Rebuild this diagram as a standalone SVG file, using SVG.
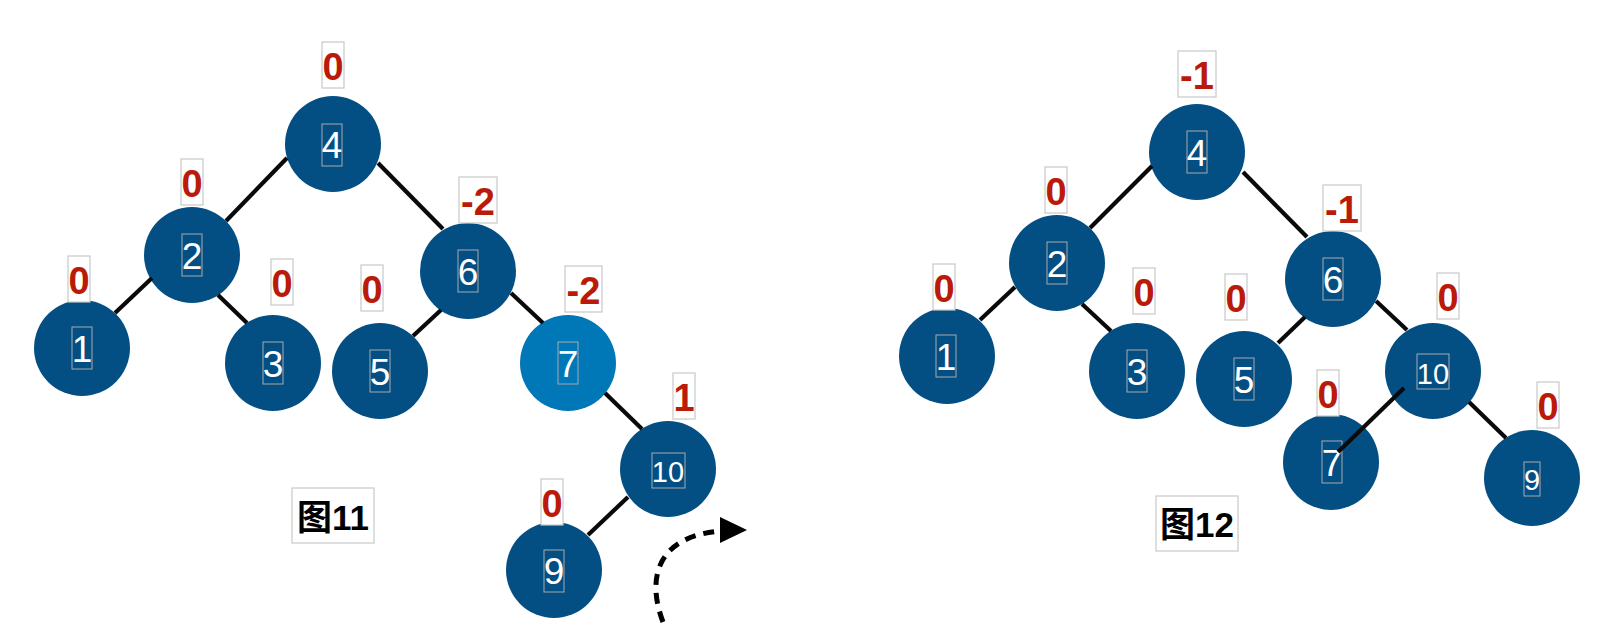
<svg xmlns="http://www.w3.org/2000/svg" width="1608" height="642" viewBox="0 0 1608 642">
<defs>
<style>
.n{fill:#034F84}
.hl{fill:#0077B6}
.tb{fill:none;stroke:#A9A9A9;stroke-width:1}
.nt{font-family:"Liberation Sans",Arial,sans-serif;font-size:37px;fill:#fff;text-anchor:middle}
.nts{font-family:"Liberation Sans",Arial,sans-serif;font-size:29px;fill:#fff;text-anchor:middle}
.lb{fill:#fff;stroke:#C8C8C8;stroke-width:1.2}
.lt{font-family:"Liberation Sans",Arial,sans-serif;font-size:38px;font-weight:bold;fill:#BA1A0A;text-anchor:middle}
.cap{font-family:"Liberation Sans","Noto Sans CJK SC",sans-serif;font-size:35px;font-weight:bold;fill:#000;text-anchor:middle}
.e{stroke:#0A0A0A;stroke-width:4.2;stroke-linecap:butt}
</style>
</defs>
<rect width="1608" height="642" fill="#fff"/>

<!-- Figure 11 -->
<g id="l-n4"><circle class="n" cx="333" cy="144" r="48"/><rect class="tb" x="322" y="124" width="20" height="42"/><text class="nt" x="332" y="158">4</text>
<rect class="lb" x="322" y="42" width="22" height="46"/><text class="lt" x="333" y="80">0</text></g>
<g id="l-n2"><circle class="n" cx="192" cy="255" r="48"/><rect class="tb" x="182" y="234" width="20" height="42"/><text class="nt" x="192" y="269">2</text>
<rect class="lb" x="181" y="159" width="22" height="46"/><text class="lt" x="192" y="197">0</text></g>
<g id="l-n1"><circle class="n" cx="82" cy="348" r="48"/><rect class="tb" x="72" y="327" width="20" height="42"/><text class="nt" x="82" y="362">1</text>
<rect class="lb" x="68" y="256" width="22" height="46"/><text class="lt" x="79" y="294">0</text></g>
<g id="l-n3"><circle class="n" cx="273" cy="363" r="48"/><rect class="tb" x="263" y="342" width="20" height="42"/><text class="nt" x="273" y="377">3</text>
<rect class="lb" x="271" y="259" width="22" height="46"/><text class="lt" x="282" y="297">0</text></g>
<g id="l-n5"><circle class="n" cx="380" cy="371" r="48"/><rect class="tb" x="370" y="350" width="20" height="42"/><text class="nt" x="380" y="385">5</text>
<rect class="lb" x="361" y="265" width="22" height="46"/><text class="lt" x="372" y="303">0</text></g>
<g id="l-n6"><circle class="n" cx="468" cy="271" r="48"/><rect class="tb" x="458" y="250" width="20" height="42"/><text class="nt" x="468" y="285">6</text>
<rect class="lb" x="459" y="177" width="38" height="46"/><text class="lt" x="478" y="215">-2</text></g>
<g id="l-n7"><circle class="hl" cx="568" cy="363" r="48"/><rect class="tb" x="558" y="342" width="20" height="42"/><text class="nt" x="568" y="377">7</text>
<rect class="lb" x="565" y="266" width="37" height="46"/><text class="lt" x="583.5" y="304">-2</text></g>
<g id="l-n10"><circle class="n" cx="668" cy="469" r="48"/><rect class="tb" x="652" y="453" width="33" height="35"/><text class="nts" x="668" y="482">10</text>
<rect class="lb" x="673" y="373" width="22" height="46"/><text class="lt" x="684" y="411">1</text></g>
<g id="l-n9"><circle class="n" cx="554" cy="570" r="48"/><rect class="tb" x="544" y="550" width="20" height="42"/><text class="nt" x="554" y="584">9</text>
<rect class="lb" x="541" y="479" width="22" height="46"/><text class="lt" x="552" y="517">0</text></g>
<g id="cap11"><rect class="lb" x="292" y="488" width="82" height="55"/><text class="cap" x="333" y="530">图11</text></g>

<!-- Figure 12 -->
<g id="r-n4"><circle class="n" cx="1197" cy="152" r="48"/><rect class="tb" x="1187" y="131" width="20" height="42"/><text class="nt" x="1197" y="166">4</text>
<rect class="lb" x="1178" y="51" width="38" height="46"/><text class="lt" x="1197" y="89">-1</text></g>
<g id="r-n2"><circle class="n" cx="1057" cy="263" r="48"/><rect class="tb" x="1047" y="242" width="20" height="42"/><text class="nt" x="1057" y="277">2</text>
<rect class="lb" x="1045" y="167" width="22" height="46"/><text class="lt" x="1056" y="205">0</text></g>
<g id="r-n1"><circle class="n" cx="947" cy="356" r="48"/><rect class="tb" x="936" y="335" width="20" height="42"/><text class="nt" x="946" y="370">1</text>
<rect class="lb" x="933" y="264" width="22" height="46"/><text class="lt" x="944" y="302">0</text></g>
<g id="r-n3"><circle class="n" cx="1137" cy="371" r="48"/><rect class="tb" x="1127" y="350" width="20" height="42"/><text class="nt" x="1137" y="385">3</text>
<rect class="lb" x="1133" y="268" width="22" height="46"/><text class="lt" x="1144" y="306">0</text></g>
<g id="r-n5"><circle class="n" cx="1244" cy="379" r="48"/><rect class="tb" x="1234" y="358" width="20" height="42"/><text class="nt" x="1244" y="393">5</text>
<rect class="lb" x="1225" y="274" width="22" height="46"/><text class="lt" x="1236" y="312">0</text></g>
<g id="r-n6"><circle class="n" cx="1333" cy="279" r="48"/><rect class="tb" x="1323" y="258" width="20" height="42"/><text class="nt" x="1333" y="293">6</text>
<rect class="lb" x="1323" y="185" width="38" height="46"/><text class="lt" x="1342" y="223">-1</text></g>
<g id="r-n10"><circle class="n" cx="1433" cy="371" r="48"/><rect class="tb" x="1417" y="354" width="32" height="35"/><text class="nts" x="1433" y="384">10</text>
<rect class="lb" x="1437" y="273" width="22" height="46"/><text class="lt" x="1448" y="311">0</text></g>
<g id="r-n7"><circle class="n" cx="1331" cy="462" r="48"/><rect class="tb" x="1322" y="441" width="20" height="42"/><text class="nt" x="1332" y="476">7</text>
<rect class="lb" x="1317" y="370" width="22" height="46"/><text class="lt" x="1328" y="408">0</text></g>
<g id="r-n9"><circle class="n" cx="1532" cy="478" r="48"/><rect class="tb" x="1524" y="462" width="16" height="34"/><text class="nts" x="1532" y="490">9</text>
<rect class="lb" x="1537" y="382" width="22" height="46"/><text class="lt" x="1548" y="420">0</text></g>
<g id="cap12"><rect class="lb" x="1156" y="496" width="82" height="55"/><text class="cap" x="1197" y="537">图12</text></g>

<g id="connectors">
<line class="e" x1="287" y1="158" x2="226" y2="221"/>
<line class="e" x1="378" y1="163" x2="443" y2="229"/>
<line class="e" x1="152" y1="278" x2="115" y2="313"/>
<line class="e" x1="218" y1="295" x2="247" y2="323"/>
<line class="e" x1="441" y1="310" x2="413" y2="336"/>
<line class="e" x1="511" y1="293" x2="543" y2="323"/>
<line class="e" x1="605" y1="393" x2="642" y2="429"/>
<line class="e" x1="628" y1="497" x2="588" y2="535"/>
<line class="e" x1="1152" y1="166" x2="1090" y2="228"/>
<line class="e" x1="1243" y1="172" x2="1307" y2="237"/>
<line class="e" x1="1015" y1="287" x2="980" y2="320"/>
<line class="e" x1="1082" y1="304" x2="1111" y2="331"/>
<line class="e" x1="1305" y1="317" x2="1278" y2="343"/>
<line class="e" x1="1376" y1="301" x2="1407" y2="330"/>
<line class="e" x1="1404" y1="388" x2="1338" y2="452"/>
<line class="e" x1="1469" y1="402" x2="1506" y2="438"/>
<path d="M663 622 C645 575 660 535 722 531" fill="none" stroke="#000" stroke-width="5" stroke-dasharray="11 8"/>
<polygon points="720,517 747,530 720,543" fill="#000"/>
</g>
</svg>
